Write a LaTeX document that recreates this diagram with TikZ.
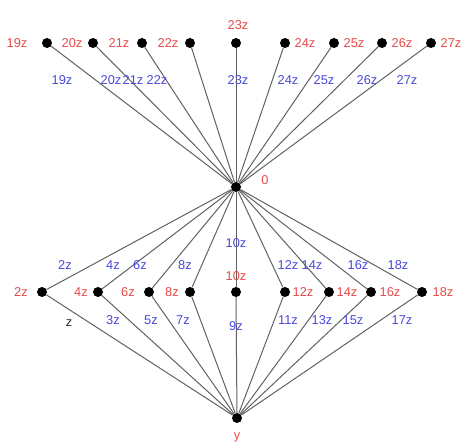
\documentclass[tikz,border=0pt]{standalone}
\usepackage{fontspec}
\setmainfont{Liberation Sans}
\definecolor{vred}{RGB}{232,72,72}
\definecolor{eblue}{RGB}{72,72,220}

\begin{document}
\begin{tikzpicture}[x=1pt,y=-1pt,
    dot/.style={circle,fill=black,inner sep=0pt,minimum size=10pt},
    vlab/.style={text=vred,font=\fontsize{12.8}{14}\selectfont,inner sep=0pt},
    elab/.style={text=eblue,font=\fontsize{12.8}{14}\selectfont,inner sep=0pt},
    edge/.style={draw=black!62,line width=1pt}]
  \useasboundingbox (0,0) rectangle (464,443);

  % vertices
  \node[dot] (o) at (236,187) {};
  \node[dot] (y) at (237,418) {};
  \foreach \n/\x in {19/47,20/93,21/142,22/190,23/236,24/285,25/334,26/382,27/431}
    \node[dot] (t\n) at (\x,43) {};
  \foreach \n/\x in {2/42,4/98,6/149,8/190,10/236,12/285,14/329,16/371,18/422}
    \node[dot] (m\n) at (\x,292) {};

  % edges
  \foreach \n in {19,...,27}
    \draw[edge] (o) -- (t\n);
  \foreach \n in {2,4,...,18} {
    \draw[edge] (o) -- (m\n);
    \draw[edge] (m\n) -- (y);
  }

  % vertex labels
  \node[vlab] (lo) at (265,180) {0};
  \node[vlab] (ly) at (237,437) {y};
  \node[vlab] (l23) at (238,25) {23z};
  \node[vlab] (l10) at (236,276) {10z};
  \foreach \n/\x in {19/17,20/72,21/119,22/168,24/305,25/354,26/402,27/451}
    \node[vlab] (l\n) at (\x,43) {\n z};
  \foreach \n/\x in {2/21,4/81,6/128,8/172,12/303,14/347,16/390,18/443}
    \node[vlab] (l\n) at (\x,292) {\n z};

  % edge labels
  \foreach \n/\x in {19/62,20/111,21/133,22/157,23/238,24/288,25/324,26/367,27/407}
    \node[elab] (e\n) at (\x,80) {\n z};
  \foreach \n/\x in {2/65,4/113,6/140,8/185,12/288,14/312,16/358,18/398}
    \node[elab] (e\n) at (\x,265) {\n z};
  \node[elab] (e10) at (236,243) {10z};
  \node[elab] (e9) at (236,326) {9z};
  \node[elab,text=black!85] (e1) at (69,323) {z};
  \foreach \n/\x in {3/113,5/151,7/183,11/288,13/322,15/353,17/402}
    \node[elab] (e\n) at (\x,320) {\n z};
\end{tikzpicture}
\end{document}
